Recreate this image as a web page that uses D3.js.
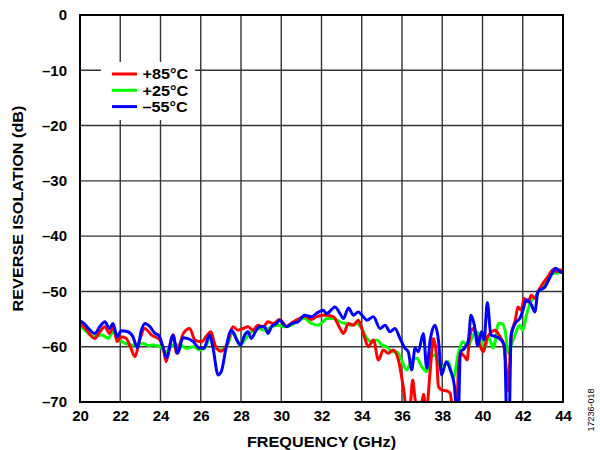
<!DOCTYPE html>
<html><head><meta charset="utf-8">
<script src="https://cdn.jsdelivr.net/npm/d3@7"></script>
<style>body{margin:0;background:#fff}svg{display:block}text{font-family:"Liberation Sans",Arial,sans-serif}</style>
</head><body>
<svg id="c" width="600" height="450"></svg>
<script>
const xTicks = [20,22,24,26,28,30,32,34,36,38,40,42,44];
const yTicks = [0,-10,-20,-30,-40,-50,-60,-70];
const seriesNames = ["+85°C","+25°C","–55°C"];
const seriesColors = ["#ff0000","#00ff00","#0000ff"];

const iso85 = [[20.0,-55.8],[20.3,-56.8],[20.5,-57.8],[20.73,-58.5],[21.0,-57.2],[21.23,-56.4],[21.47,-57.6],[21.64,-56.4],[21.85,-59.1],[22.05,-58.2],[22.3,-58.5],[22.5,-60],[22.73,-61.8],[22.95,-59],[23.21,-56.7],[23.56,-57.9],[23.98,-58.8],[24.15,-60.5],[24.28,-62.7],[24.45,-60],[24.64,-57.9],[24.8,-61.2],[25.13,-57.6],[25.45,-56.7],[25.71,-58.8],[26.05,-59.1],[26.3,-58],[26.5,-57.3],[26.71,-59.7],[27.0,-60.8],[27.29,-59.7],[27.6,-56.4],[27.85,-57],[28.1,-56.7],[28.35,-56.4],[28.6,-57],[28.84,-56.1],[29.1,-56.4],[29.34,-55.5],[29.59,-55.8],[29.92,-55.1],[30.26,-56.3],[30.6,-55.5],[30.9,-54.9],[31.2,-54.5],[31.5,-55.1],[31.74,-54.6],[32.07,-54.3],[32.26,-54.3],[32.6,-54.6],[32.92,-56.7],[33.09,-57.6],[33.34,-55.8],[33.59,-56.1],[33.83,-55.2],[34.08,-57.6],[34.33,-60],[34.58,-58.8],[34.83,-62.4],[35.07,-60.6],[35.32,-61.2],[35.57,-60.6],[35.82,-62.4],[36.06,-67.2],[36.26,-72],[36.4,-71],[36.53,-66],[36.65,-69.5],[36.8,-72],[36.95,-71],[37.07,-68.6],[37.2,-72],[37.39,-64.8],[37.56,-58.5],[37.72,-61.8],[37.81,-67.2],[37.97,-67.8],[38.22,-68],[38.39,-68.4],[38.55,-72],[38.7,-72],[38.82,-63],[38.94,-61.2],[39.11,-61.8],[39.24,-62.4],[39.34,-58.8],[39.51,-56.7],[39.67,-57.6],[39.85,-59.5],[40.04,-60.9],[40.21,-58.5],[40.37,-57.6],[40.62,-57],[40.87,-58.2],[41.04,-59.4],[41.17,-63.6],[41.26,-68],[41.43,-57.9],[41.63,-55.2],[41.76,-52.8],[41.93,-53.4],[42.06,-51.3],[42.26,-51.9],[42.43,-50.7],[42.6,-51.3],[42.76,-50],[43.01,-48.5],[43.26,-47.3],[43.5,-46.1],[43.67,-46.4],[43.83,-46.1],[44.0,-46.4]];

const iso25 = [[20.0,-56.3],[20.3,-57.2],[20.66,-58.2],[21.08,-57.9],[21.41,-58.5],[21.66,-57.3],[21.99,-58.8],[22.24,-59.4],[22.65,-59.7],[22.9,-59.5],[23.15,-59.4],[23.4,-59.8],[23.64,-59.7],[23.98,-60],[24.27,-60.9],[24.64,-59.7],[24.97,-59.7],[25.3,-60.3],[25.63,-60],[25.96,-60.6],[26.19,-60.3],[26.52,-57.9],[26.77,-60.3],[27.02,-60.6],[27.35,-59.4],[27.6,-57.3],[27.93,-59.7],[28.18,-58.8],[28.51,-57.3],[28.84,-56.7],[29.17,-57],[29.51,-56.4],[29.84,-56.1],[30.17,-56.4],[30.51,-56.1],[30.83,-55.2],[31.16,-54.9],[31.5,-55.8],[31.83,-56.1],[32.07,-55.5],[32.26,-54.9],[32.6,-54.9],[32.92,-55.5],[33.17,-55.8],[33.42,-56.1],[33.75,-55.8],[34.0,-56.7],[34.25,-58.5],[34.5,-59.1],[34.75,-58.8],[35.0,-59.7],[35.24,-60],[35.49,-60.9],[35.74,-60.9],[35.98,-62.4],[36.23,-64.2],[36.48,-62.4],[36.73,-62.1],[36.98,-63.6],[37.23,-64.5],[37.47,-61.8],[37.64,-61.5],[37.81,-63],[38.05,-63.6],[38.3,-62.7],[38.55,-65.7],[38.8,-61.2],[39.03,-59.1],[39.27,-60],[39.47,-58.5],[39.65,-57.3],[39.86,-57.9],[40.11,-60.3],[40.3,-58.2],[40.54,-60.2],[40.8,-55.8],[40.98,-55.8],[41.12,-57],[41.29,-61.2],[41.45,-59.5],[41.65,-57.5],[41.84,-56.1],[42.0,-57],[42.2,-54],[42.44,-51.6],[42.69,-50.7],[42.9,-49.5],[43.1,-48.8],[43.42,-46.7],[43.67,-46.7],[43.92,-46.4],[44.0,-46.7]];

const isoM55 = [[20.0,-55.3],[20.2,-55.8],[20.45,-56.8],[20.73,-57.6],[21.0,-56.3],[21.23,-55.5],[21.47,-56.7],[21.64,-55.8],[21.85,-58.2],[22.05,-57.1],[22.38,-57.3],[22.63,-58.2],[22.85,-60.2],[23.05,-57],[23.23,-55.8],[23.48,-56.4],[23.73,-57.6],[23.9,-57.9],[24.12,-60],[24.3,-62],[24.62,-57.9],[24.85,-61.2],[25.12,-58.4],[25.33,-58.5],[25.63,-59.1],[25.96,-60.3],[26.15,-60.3],[26.44,-57.9],[26.6,-60],[26.86,-65.1],[27.02,-64.5],[27.27,-60],[27.52,-57],[27.77,-58.6],[27.98,-59.7],[28.18,-57.9],[28.35,-57.3],[28.51,-58.5],[28.76,-57],[28.93,-56.4],[29.17,-56.4],[29.34,-57.6],[29.51,-56.4],[29.76,-55.8],[29.92,-55.2],[30.26,-56.4],[30.51,-55.8],[30.83,-55.5],[31.16,-54.3],[31.5,-54.6],[31.74,-54],[32.07,-53.4],[32.26,-54],[32.67,-52.8],[32.92,-54],[33.09,-54.9],[33.34,-53],[33.59,-54.3],[33.83,-53.7],[34.08,-54.6],[34.25,-55.2],[34.58,-54.6],[34.91,-56.7],[35.16,-56.1],[35.4,-57.3],[35.65,-56.7],[35.9,-58.5],[36.15,-60.3],[36.31,-60.9],[36.48,-64.2],[36.65,-60.3],[36.81,-60.9],[37.06,-57.6],[37.23,-63.9],[37.4,-58.8],[37.64,-56.1],[37.81,-58.8],[37.97,-65.1],[38.2,-62.7],[38.4,-64.2],[38.6,-67],[38.72,-72],[38.8,-72],[38.9,-61],[39.1,-60.3],[39.3,-58.8],[39.43,-54.3],[39.6,-56.2],[39.76,-59.8],[39.95,-57.3],[40.08,-58.8],[40.24,-52],[40.42,-57.9],[40.68,-58.2],[40.93,-58.8],[41.1,-60],[41.2,-72],[41.33,-72],[41.42,-57.9],[41.68,-55.5],[41.85,-54.9],[42.01,-53.4],[42.18,-51.5],[42.43,-52.4],[42.6,-53.7],[42.76,-50],[43.1,-49.2],[43.42,-47],[43.62,-45.8],[43.83,-46.4],[44.0,-46.7]];

const svg = d3.select("#c");
const L = 80, R = 563, T = 15, B = 402;
const x = d3.scaleLinear().domain([20,44]).range([L,R]);
const y = d3.scaleLinear().domain([-70,0]).range([B,T]);
const FONT = '"Liberation Sans",Arial,sans-serif';

svg.append("defs").append("clipPath").attr("id","clip")
  .append("rect").attr("x",L).attr("y",T).attr("width",R-L).attr("height",B-T);

// grid
const grid = svg.append("g");
grid.selectAll("line.v").data(xTicks.slice(1,-1)).join("line")
  .attr("x1",d=>x(d)).attr("x2",d=>x(d)).attr("y1",T).attr("y2",B)
  .attr("stroke","#333").attr("stroke-width",1.4);
grid.selectAll("line.h").data(yTicks.slice(1,-1)).join("line")
  .attr("y1",d=>y(d)).attr("y2",d=>y(d)).attr("x1",L).attr("x2",R)
  .attr("stroke","#333").attr("stroke-width",1.4);

// legend background (hides grid)
svg.append("rect").attr("x",101).attr("y",62).attr("width",94).attr("height",58).attr("fill","#fff");

// lines
const line = d3.line().x(d=>x(d[0])).y(d=>y(d[1])).curve(d3.curveMonotoneX);
const data = [iso85, iso25, isoM55];
const order = [1,0,2];
const lg = svg.append("g").attr("clip-path","url(#clip)");
order.forEach(i=>{
  lg.append("path").datum(data[i]).attr("d",line).attr("fill","none")
    .attr("stroke",seriesColors[i]).attr("stroke-width",3).attr("stroke-linejoin","round");
});

// border
svg.append("rect").attr("x",L).attr("y",T).attr("width",R-L).attr("height",B-T)
  .attr("fill","none").attr("stroke","#000").attr("stroke-width",2);

// axes
const xAxis = d3.axisBottom(x).tickValues(xTicks).tickSize(0).tickPadding(8);
const gx = svg.append("g").attr("transform",`translate(0,${B})`).call(xAxis);
gx.select(".domain").remove();
gx.selectAll("text").attr("font-size",15).attr("font-weight","bold").attr("fill","#000")
  .attr("font-family",FONT);

const yAxis = d3.axisLeft(y).tickValues(yTicks).tickSize(0).tickPadding(13)
  .tickFormat(d=> d===0 ? "0" : "–" + Math.abs(d));
const gy = svg.append("g").attr("transform",`translate(${L},0)`).call(yAxis);
gy.select(".domain").remove();
gy.selectAll("text").attr("font-size",15).attr("font-weight","bold").attr("fill","#000")
  .attr("font-family",FONT);

svg.append("text").attr("transform",`translate(${(L+R)/2},447) scale(1.08,1)`).attr("text-anchor","middle")
  .attr("font-size",15).attr("font-weight","bold").text("FREQUENCY (GHz)");
svg.append("text").attr("transform",`translate(23,${(T+B)/2}) rotate(-90) scale(1.08,1)`).attr("text-anchor","middle")
  .attr("font-size",15).attr("font-weight","bold").text("REVERSE ISOLATION (dB)");
svg.append("text").attr("transform",`translate(594,410) rotate(-90)`).attr("text-anchor","middle")
  .attr("font-size",9).attr("fill","#000").text("17236-018");

// legend
const leg = svg.append("g");
seriesNames.forEach((n,i)=>{
  const yy = 74 + i*16.3;
  leg.append("line").attr("x1",112).attr("x2",137).attr("y1",yy).attr("y2",yy)
    .attr("stroke",seriesColors[i]).attr("stroke-width",3);
  leg.append("text").attr("transform",`translate(142.5,${yy+5.2}) scale(1.08,1)`)
    .attr("font-size",15).attr("font-weight","bold").text(n);
});
</script>
</body></html>
